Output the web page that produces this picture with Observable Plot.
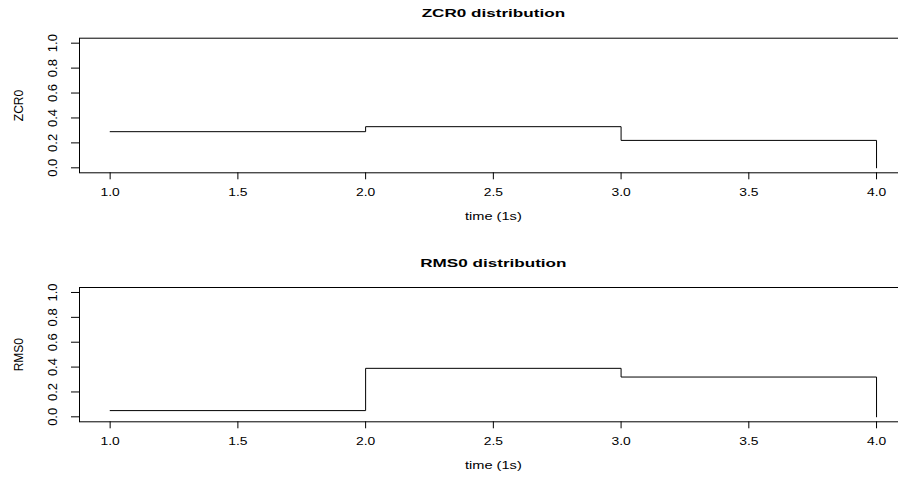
<!DOCTYPE html>
<html>
<head>
<meta charset="utf-8">
<script src="https://cdn.jsdelivr.net/npm/d3@7"></script>
<script src="https://cdn.jsdelivr.net/npm/@observablehq/plot@0.6"></script>
<style>
  html, body { margin: 0; padding: 0; background: white; }
  #chart { width: 898px; height: 478px; overflow: hidden; }
  #chart > div, #chart > svg { display: block; }
</style>
</head>
<body>
<div id="chart"></div>
<script>
// ---- data ----
const time = [1, 2, 3, 4];
const zcr0 = [0.29, 0.33, 0.22, 0.0];
const rms0 = [0.05, 0.39, 0.32, 0.0];
const xTicks = [1.0, 1.5, 2.0, 2.5, 3.0, 3.5, 4.0];
const yTicks = [0.0, 0.2, 0.4, 0.6, 0.8, 1.0];
const titles = ["ZCR0 distribution", "RMS0 distribution"];
const yLabels = ["ZCR0", "RMS0"];
const xLabel = "time (1s)";

const fmt = d3.format(".1f");

function panel(title, ylabel, values, marginTop, marginBottom) {
  const data = time.map((t, i) => ({t, v: values[i]}));
  return Plot.plot({
    width: 898,
    height: 239,
    marginLeft: 79,
    marginRight: -8.7,
    marginTop,
    marginBottom,
    x: {domain: [0.88, 4.12]},
    y: {domain: [-0.04, 1.04]},
    style: {fontFamily: '"Liberation Sans", Arial, Helvetica, sans-serif', background: "white", color: "black", overflow: "hidden"},
    marks: [
      Plot.frame({stroke: "black"}),
      Plot.axisX({ticks: xTicks, tickSize: 7, tickPadding: 9, tickFormat: fmt, fontSize: 10.5, label: null}),
      Plot.axisY({ticks: yTicks, tickSize: 8, tickPadding: 14.5, tickRotate: -90, tickFormat: fmt, fontSize: 13, label: null}),
      Plot.line(data, {x: "t", y: "v", curve: "step-after", stroke: "black", strokeWidth: 1}),
      Plot.text([title], {text: d => d, frameAnchor: "top", dy: -21, lineAnchor: "bottom", fontWeight: "bold", fontSize: 10.7}),
      Plot.text([xLabel], {text: d => d, frameAnchor: "bottom", dy: 47, lineAnchor: "bottom", fontSize: 10.5}),
      Plot.text([ylabel], {text: d => d, frameAnchor: "left", dx: -57, rotate: -90, lineAnchor: "bottom", textAnchor: "middle", fontSize: 12})
    ]
  });
}

function stretch(svg) {
  svg.querySelectorAll("text").forEach(t => {
    const tr = t.getAttribute("transform") || "";
    if (tr.includes("rotate")) return;
    const s = t.textContent;
    const k = titles.includes(s) ? 1.6 : s === xLabel ? 1.39 : 1.32;
    const len = t.getComputedTextLength();
    if (len > 0) {
      t.setAttribute("textLength", (len * k).toFixed(2));
      t.setAttribute("lengthAdjust", "spacingAndGlyphs");
    }
  });
}

const root = document.getElementById("chart");
const p1 = panel(titles[0], yLabels[0], zcr0, 37.7, 66.7);
root.appendChild(p1);
stretch(p1);
const p2 = panel(titles[1], yLabels[1], rms0, 48, 56.7);
root.appendChild(p2);
stretch(p2);
</script>
</body>
</html>
